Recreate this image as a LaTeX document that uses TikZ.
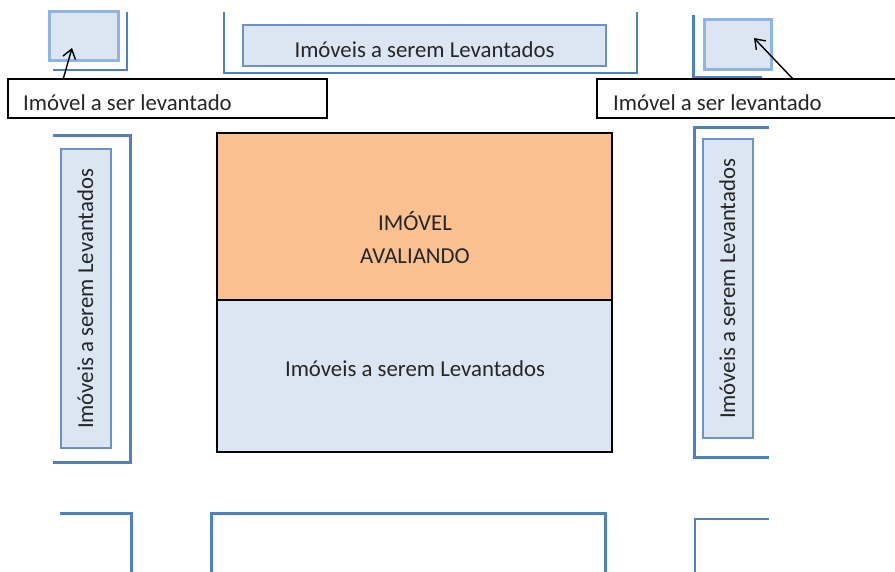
\documentclass[tikz,border=0pt]{standalone}
\usepackage{fontspec}
\setmainfont{Carlito}
\usetikzlibrary{arrows.meta,calc}
\definecolor{brk}{RGB}{79,129,189}
\definecolor{lbfill}{RGB}{220,230,242}
\definecolor{lbdraw}{RGB}{108,146,201}
\definecolor{smdraw}{RGB}{142,180,227}
\definecolor{orng}{RGB}{250,192,144}
\begin{document}
\begin{tikzpicture}[x=1pt,y=-1pt,
  txt/.style={font=\fontsize{22.8}{27}\selectfont, inner sep=0pt, text=black!85},
  bracket/.style={draw=brk, line width=2.2pt},
  thinbracket/.style={draw=brk, line width=1.6pt},
  strip/.style={draw=lbdraw, fill=lbfill, line width=1.3pt, inner sep=0pt},
  lot/.style={draw=smdraw, fill=lbfill, line width=3.5pt, inner sep=0pt},
  labbox/.style={draw=black, line width=1.2pt, fill=white, inner sep=0pt},
  mainbox/.style={draw=black, line width=1.8pt, inner sep=0pt},
  ptr/.style={draw=black, line width=1.4pt, -{Straight Barb[length=9pt,width=13pt,line width=1.4pt]}}
]
\clip (0,0) rectangle (895,571);
\fill[white] (0,0) rectangle (895,571);

% brackets (block outlines)
\draw[thinbracket] (127,12) -- (127,70) -- (53,70);
\draw[thinbracket] (224,12) -- (224,73) -- (637,73) -- (637,12);
\draw[bracket, line width=3pt] (693,15) -- (693,77) -- (762,77);
\draw[bracket, line width=3pt] (53,135) -- (130,135) -- (130,462) -- (53,462);
\draw[bracket, line width=3pt] (769,127) -- (694,127) -- (694,457) -- (769,457);
\draw[bracket, line width=3pt] (60,513) -- (131,513) -- (131,580);
\draw[bracket, line width=3pt] (211,580) -- (211,513) -- (605,513) -- (605,580);
\draw[bracket] (695,580) -- (695,519) -- (769,519);

% small lots
\node[lot, minimum width=69pt, minimum height=49pt] (lotA) at (84,36) {};
\node[lot, minimum width=67pt, minimum height=50pt] (lotB) at (738,44.5) {};
\coordinate (tipA) at (72,48);
\coordinate (tipB) at (754,38);

% strips
\node[strip, minimum width=363pt, minimum height=41pt] (stripT) at (424.5,45.5) {};
\node[txt, anchor=base] (stripTtxt) at (424.5,57) {Imóveis a serem Levantados};
\node[strip, minimum width=50pt, minimum height=299pt] (stripL) at (86,298.5) {};
\node[txt, rotate=90, anchor=base] (stripLtxt) at (93,299) {Imóveis a serem Levantados};
\node[strip, minimum width=50pt, minimum height=299pt] (stripR) at (728,288.5) {};
\node[txt, rotate=90, anchor=base] (stripRtxt) at (735,289) {Imóveis a serem Levantados};

% central block
\node[mainbox, fill=orng, minimum width=395pt, minimum height=167pt] (subj) at (414.5,216.5) {};
\node[mainbox, fill=lbfill, minimum width=395pt, minimum height=152pt] (low) at (414.5,376) {};
\node[txt, anchor=base] (subj1) at (415,230) {IMÓVEL};
\node[txt, anchor=base] (subj2) at (415,263) {AVALIANDO};
\node[txt, anchor=base] (lowtxt) at (415,376) {Imóveis a serem Levantados};

% callouts
\node[labbox, minimum width=319pt, minimum height=39pt] (lab1) at (167.5,98.5) {};
\node[txt, anchor=base west] (lab1txt) at (23,110) {Imóvel a ser levantado};
\node[labbox, minimum width=323pt, minimum height=39pt] (lab2) at (758.5,98.5) {};
\node[txt, anchor=base west] (lab2txt) at (613,110) {Imóvel a ser levantado};

\draw[ptr] ($(lab1.north west)+(56,0)$) -- (tipA);
\draw[ptr] ($(lab2.north west)+(196,0)$) -- (tipB);
\end{tikzpicture}
\end{document}
